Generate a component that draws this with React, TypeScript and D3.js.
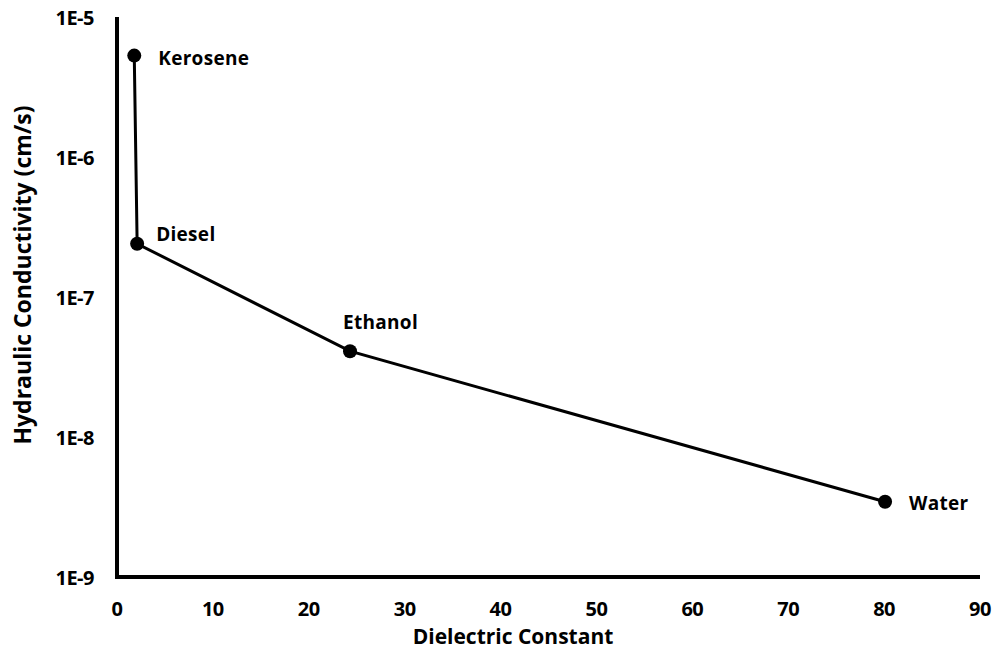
import React from "react";
import * as d3 from "d3";

const names = ["Kerosene", "Diesel", "Ethanol", "Water"];
const dielectric = [1.8, 2.1, 24.3, 80.1];
const conductivity = [5.3e-6, 2.4e-7, 4.1e-8, 3.45e-9];
const xTicks = [0, 10, 20, 30, 40, 50, 60, 70, 80, 90];
const yTicks = [1e-9, 1e-8, 1e-7, 1e-6, 1e-5];
const yTickLabels = ["1E-9", "1E-8", "1E-7", "1E-6", "1E-5"];
const labelOffsets = [
  [24, 2],
  [19, -10],
  [-7, -29],
  [24, 1],
];

export default function App() {
  const W = 995, H = 651;
  const left = 117, right = 980, top = 17, bottom = 577;
  const x = d3.scaleLinear().domain([0, 90]).range([left, right]);
  const y = d3.scaleLog().domain([1e-9, 1e-5]).range([bottom, top]);
  const pts = names.map((n, i) => ({ n, x: dielectric[i], y: conductivity[i], o: labelOffsets[i] }));
  const line = d3.line<any>().x((d) => x(d.x)).y((d) => y(d.y));
  const font = "'Open Sans', Lato, sans-serif";
  return (
    <svg width={W} height={H} style={{ position: "absolute", left: 0, top: 0, fontFamily: font }}>
      <rect width={W} height={H} fill="#fff" />
      <path d={`M${left},${top}V${bottom}H${right}`} fill="none" stroke="#000" strokeWidth={4} />
      {xTicks.map((t) => (
        <text key={t} x={x(t)} y={608} textAnchor="middle" dominantBaseline="central" fontSize={20} fontWeight="bold" letterSpacing={-0.5}>
          {t}
        </text>
      ))}
      {yTicks.map((t, i) => (
        <text key={t} x={94} y={y(t)} textAnchor="end" dominantBaseline="central" fontSize={20} fontWeight="bold" letterSpacing={-0.5}>
          {yTickLabels[i]}
        </text>
      ))}
      <path d={line(pts) || ""} fill="none" stroke="#000" strokeWidth={3} />
      {pts.map((p) => (
        <g key={p.n}>
          <circle cx={x(p.x)} cy={y(p.y)} r={7} fill="#000" />
          <text x={x(p.x) + p.o[0]} y={y(p.y) + p.o[1]} dominantBaseline="central" fontSize={19} fontWeight="bold" letterSpacing={0.3}>
            {p.n}
          </text>
        </g>
      ))}
      <text x={513} y={636} textAnchor="middle" dominantBaseline="central" fontSize={21} fontWeight="bold">
        Dielectric Constant
      </text>
      <text transform={`translate(22,275) rotate(-90)`} textAnchor="middle" dominantBaseline="central" fontSize={23} fontWeight="bold">
        Hydraulic Conductivity (cm/s)
      </text>
    </svg>
  );
}
